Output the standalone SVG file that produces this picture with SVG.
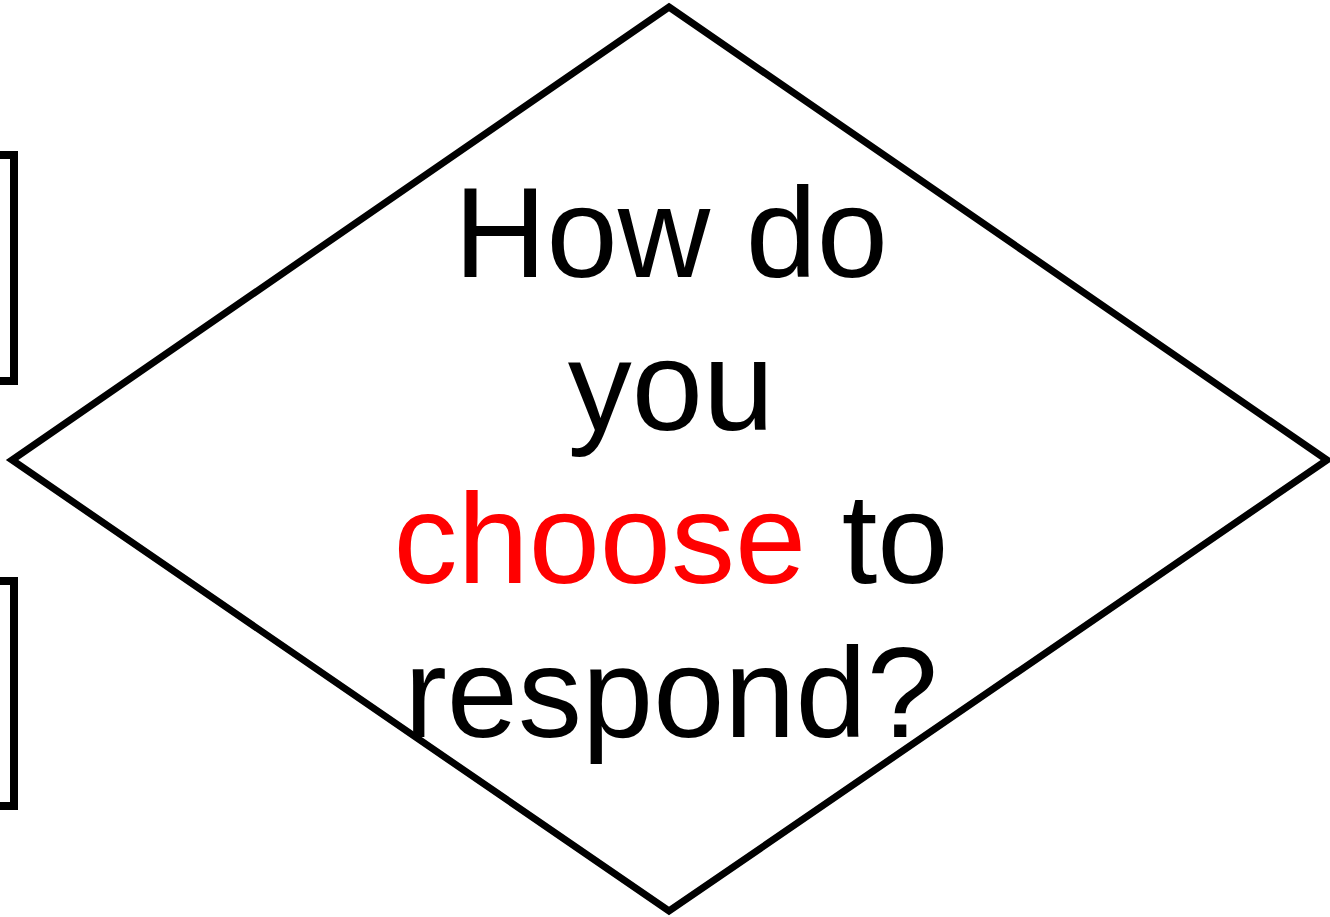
<svg xmlns="http://www.w3.org/2000/svg" width="1330" height="917" viewBox="0 0 1330 917">
<style>
.shape{fill:none;stroke:#000;stroke-width:7}
.box{fill:none;stroke:#000;stroke-width:8}
.t{font-family:"Liberation Sans",Arial,sans-serif;font-size:128px;fill:#000;text-anchor:middle}
.red{fill:#ff0000}
</style>
<rect width="1330" height="917" fill="#fff"/>
<g id="box1"><rect class="box" x="-30" y="155" width="44" height="226"/></g>
<g id="box2"><rect class="box" x="-30" y="581" width="44" height="225"/></g>
<g id="decision">
<polygon class="shape" points="669,7 1327,460 669,911 12,460"/>
<text class="t" x="671" y="277">How do</text>
<text class="t" x="671" y="430">you</text>
<text class="t" x="671" y="583"><tspan class="red">choose</tspan> to</text>
<text class="t" x="671" y="737">respond?</text>
</g>
<g id="connectors"></g>
</svg>
